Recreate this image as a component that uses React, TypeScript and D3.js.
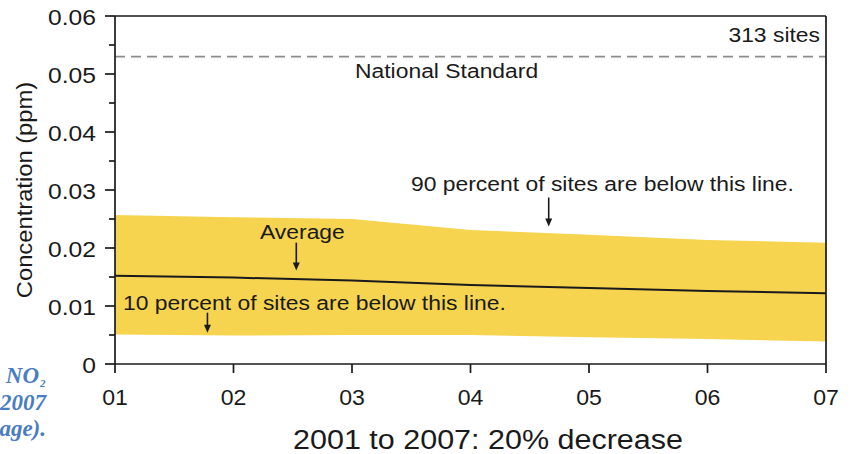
import React from 'react';
import * as d3 from 'd3';

// Annual NO2 concentrations (ppm) across monitoring sites
const years = [2001, 2002, 2003, 2004, 2005, 2006, 2007];
const yearLabels = ['01', '02', '03', '04', '05', '06', '07'];
const p90 = [0.0257, 0.0253, 0.025, 0.0231, 0.0223, 0.0214, 0.0209];
const average = [0.0152, 0.0149, 0.0144, 0.0136, 0.0131, 0.0126, 0.0122];
const p10 = [0.0051, 0.0049, 0.005, 0.005, 0.0046, 0.0043, 0.0039];
const yTicks = [0, 0.01, 0.02, 0.03, 0.04, 0.05, 0.06];
const yTickLabels = ['0', '0.01', '0.02', '0.03', '0.04', '0.05', '0.06'];
const yMinorTicks = [0.005, 0.015, 0.025, 0.035, 0.045, 0.055];
const nationalStandard = 0.053;
const siteCount = 313;

const W = 853;
const H = 454;
const left = 115;
const right = 826;
const top = 16;
const bottom = 364;

const SANS = '"Liberation Sans", Arial, Helvetica, sans-serif';
const SERIF = '"Liberation Serif", "Times New Roman", serif';
const INK = '#1a1a1a';
const BAND = '#F6D44F';
const STRETCH = 1.09;

type TxtProps = {
  x: number;
  y: number;
  size: number;
  anchor?: 'start' | 'middle' | 'end';
  rotate?: number;
  sx?: number;
  fill?: string;
  children: React.ReactNode;
};

function Txt({ x, y, size, anchor = 'start', rotate = 0, sx = STRETCH, fill = INK, children }: TxtProps) {
  const rot = rotate ? ` rotate(${rotate})` : '';
  return (
    <text
      transform={`translate(${x},${y})${rot} scale(${sx},1)`}
      textAnchor={anchor}
      fontFamily={SANS}
      fontSize={size}
      fill={fill}
    >
      {children}
    </text>
  );
}

function Arrow({ x, tipY, length }: { x: number; tipY: number; length: number }) {
  const head = 8;
  return (
    <g>
      <line x1={x} x2={x} y1={tipY - length} y2={tipY - head + 1} stroke={INK} strokeWidth={1.6} />
      <path d={`M${x - 3.5},${tipY - head} L${x + 3.5},${tipY - head} L${x},${tipY} Z`} fill={INK} />
    </g>
  );
}

export default function App() {
  const x = d3.scaleLinear().domain([2001, 2007]).range([left, right]);
  const y = d3.scaleLinear().domain([0, 0.06]).range([bottom, top]);

  const rows = years.map((yr, i) => ({ yr, lo: p10[i], hi: p90[i], avg: average[i] }));

  const band = d3
    .area<(typeof rows)[number]>()
    .x((d) => x(d.yr))
    .y0((d) => y(d.lo))
    .y1((d) => y(d.hi))(rows) as string;

  const avgLine = d3
    .line<(typeof rows)[number]>()
    .x((d) => x(d.yr))
    .y((d) => y(d.avg))(rows) as string;

  const axisW = 1.7;

  return (
    <svg
      width={W}
      height={H}
      viewBox={`0 0 ${W} ${H}`}
      style={{ position: 'absolute', left: 0, top: 0, background: '#fff' }}
    >
      <rect x={0} y={0} width={W} height={H} fill="#fff" />

      {/* 10th–90th percentile band */}
      <path d={band} fill={BAND} stroke="none" />

      {/* average */}
      <path d={avgLine} fill="none" stroke={INK} strokeWidth={2} />

      {/* national standard */}
      <line
        x1={left}
        x2={right}
        y1={y(nationalStandard)}
        y2={y(nationalStandard)}
        stroke="#8c8c8c"
        strokeWidth={1.6}
        strokeDasharray="10,6"
      />

      {/* frame */}
      <line x1={left} x2={right} y1={top} y2={top} stroke={INK} strokeWidth={axisW} />
      <line x1={right} x2={right} y1={top} y2={bottom} stroke={INK} strokeWidth={axisW} />
      <line x1={left} x2={left} y1={top} y2={bottom} stroke={INK} strokeWidth={axisW} />
      <line x1={left} x2={right} y1={bottom} y2={bottom} stroke={INK} strokeWidth={axisW} />

      {/* y axis ticks */}
      {yTicks.map((t, i) => (
        <g key={`yt${i}`}>
          <line x1={left - 10} x2={left} y1={y(t)} y2={y(t)} stroke={INK} strokeWidth={axisW} />
          <Txt x={96} y={y(t) + 9} size={22} anchor="end" sx={1.12}>
            {yTickLabels[i]}
          </Txt>
        </g>
      ))}
      {yMinorTicks.map((t, i) => (
        <line key={`ym${i}`} x1={left - 6} x2={left} y1={y(t)} y2={y(t)} stroke={INK} strokeWidth={axisW} />
      ))}

      {/* x axis ticks */}
      {years.map((yr, i) => (
        <g key={`xt${i}`}>
          <line x1={x(yr)} x2={x(yr)} y1={bottom} y2={bottom + 9} stroke={INK} strokeWidth={axisW} />
          <Txt x={x(yr)} y={405} size={22} anchor="middle" sx={1.05}>
            {yearLabels[i]}
          </Txt>
        </g>
      ))}

      {/* axis titles */}
      <Txt x={32} y={(top + bottom) / 2} size={22} anchor="middle" rotate={-90} sx={1.08}>
        Concentration (ppm)
      </Txt>
      <Txt x={488} y={449} size={28} anchor="middle">
        2001 to 2007: 20% decrease
      </Txt>

      {/* annotations */}
      <Txt x={820} y={42} size={21} anchor="end">
        {`${siteCount} sites`}
      </Txt>
      <Txt x={355} y={78} size={21}>
        National Standard
      </Txt>
      <Txt x={411} y={191} size={21}>
        90 percent of sites are below this line.
      </Txt>
      <Arrow x={x(2004.66)} tipY={y(0.0237)} length={29} />
      <Txt x={260} y={239} size={21}>
        Average
      </Txt>
      <Arrow x={x(2002.53)} tipY={y(0.0161)} length={28} />
      <Txt x={123} y={310} size={21}>
        10 percent of sites are below this line.
      </Txt>
      <Arrow x={x(2001.78)} tipY={y(0.0054)} length={20} />

      {/* caption fragment at the left edge */}
      <g fill="#4a7cc1" fontFamily={SERIF} fontWeight="bold" fontStyle="italic">
        <text x={39} y={383} fontSize={23} textAnchor="end">
          NO
        </text>
        <text x={40} y={387} fontSize={11}>
          2
        </text>
        <text x={46} y={410} fontSize={23} textAnchor="end">
          2007
        </text>
        <text x={46} y={436} fontSize={23} textAnchor="end">
          age).
        </text>
      </g>
    </svg>
  );
}
